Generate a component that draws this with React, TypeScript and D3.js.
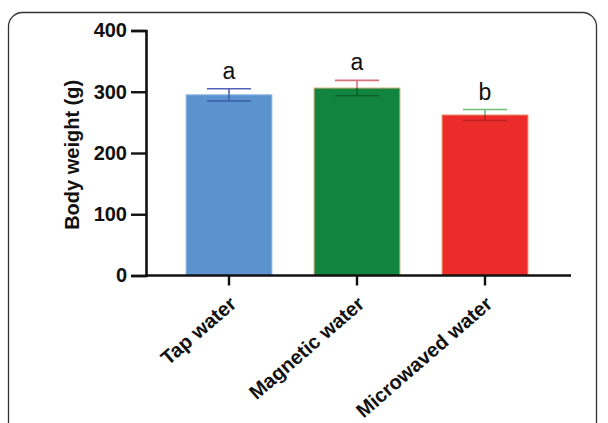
import React, { useRef, useEffect } from 'react';
import * as d3 from 'd3';

const groups = ['Tap water', 'Magnetic water', 'Microwaved water'];
const means = [295, 306, 262];
const errors = [10, 12.5, 9];
const letters = ['a', 'a', 'b'];
const barColors = ['#5b93cf', '#118540', '#ec2b2b'];
const barEdges = ['#8fb6e6', '#c9a86a', '#e88a5a'];
const errUpper = ['#5562b8', '#d6707a', '#6cc07a'];
const errLower = ['#3f5aa8', '#0c5e2c', '#b81f1f'];
const yTicks = [0, 100, 200, 300, 400];

const W = 608;
const H = 423;

const App = () => {
    const ref = useRef<SVGSVGElement | null>(null);

    useEffect(() => {
        const svg = d3.select(ref.current);
        svg.selectAll('*').remove();

        // card frame
        svg.append('rect')
            .attr('x', 8.5).attr('y', 12.5)
            .attr('width', 588).attr('height', 430)
            .attr('rx', 14)
            .attr('fill', '#fff')
            .attr('stroke', '#333')
            .attr('stroke-width', 1.3);

        const y = d3.scaleLinear().domain([0, 400]).range([275.5, 30.5]);
        const x = d3.scaleBand().domain(groups).range([165, 549]).paddingInner(0.33).paddingOuter(0.165);

        const font = 'Liberation Sans, Arial, sans-serif';

        // bars
        svg.append('g').selectAll('rect')
            .data(groups)
            .join('rect')
            .attr('x', d => x(d)!)
            .attr('y', (d, i) => y(means[i]))
            .attr('width', x.bandwidth())
            .attr('height', (d, i) => y(0) - y(means[i]))
            .attr('fill', (d, i) => barColors[i])
            .attr('stroke', (d, i) => barEdges[i])
            .attr('stroke-width', 1);

        // error bars + letters
        const cap = 22;
        groups.forEach((g, i) => {
            const cx = x(g)! + x.bandwidth() / 2;
            const eg = svg.append('g').attr('stroke-width', 1.6);
            eg.append('line')
                .attr('x1', cx).attr('x2', cx)
                .attr('y1', y(means[i] + errors[i])).attr('y2', y(means[i]))
                .attr('stroke', errUpper[i]);
            eg.append('line')
                .attr('x1', cx - cap).attr('x2', cx + cap)
                .attr('y1', y(means[i] + errors[i])).attr('y2', y(means[i] + errors[i]))
                .attr('stroke', errUpper[i]);
            eg.append('line')
                .attr('x1', cx).attr('x2', cx)
                .attr('y1', y(means[i])).attr('y2', y(means[i] - errors[i]))
                .attr('stroke', errLower[i]);
            eg.append('line')
                .attr('x1', cx - cap).attr('x2', cx + cap)
                .attr('y1', y(means[i] - errors[i])).attr('y2', y(means[i] - errors[i]))
                .attr('stroke', errLower[i]);
            svg.append('text')
                .attr('x', cx)
                .attr('y', y(means[i] + errors[i]) - 10)
                .attr('text-anchor', 'middle')
                .attr('font-family', font)
                .attr('font-size', 23)
                .attr('fill', '#111')
                .text(letters[i]);
        });

        // y axis
        const yAxis = svg.append('g')
            .attr('transform', 'translate(146,0)')
            .call(d3.axisLeft(y).tickValues(yTicks).tickSize(15).tickPadding(4));
        yAxis.select('.domain').attr('stroke', '#111').attr('stroke-width', 2.6);
        yAxis.selectAll('.tick line').attr('stroke', '#111').attr('stroke-width', 2.4);
        yAxis.selectAll('.tick text')
            .attr('font-family', font)
            .attr('font-weight', 'bold')
            .attr('font-size', 20)
            .attr('fill', '#111');

        // x axis
        svg.append('line')
            .attr('x1', 145).attr('x2', 571)
            .attr('y1', y(0)).attr('y2', y(0))
            .attr('stroke', '#111').attr('stroke-width', 2.6);
        const xAxis = svg.append('g')
            .attr('transform', `translate(0,${y(0)})`)
            .call(d3.axisBottom(x).tickSize(10).tickPadding(6));
        xAxis.select('.domain').remove();
        xAxis.selectAll('.tick line').attr('stroke', '#111').attr('stroke-width', 2.4);
        xAxis.selectAll('.tick text')
            .attr('font-family', font)
            .attr('font-weight', 'bold')
            .attr('font-size', 20)
            .attr('fill', '#111')
            .attr('text-anchor', 'end')
            .attr('x', 0)
            .attr('y', 0)
            .attr('dy', '0.35em')
            .attr('transform', 'translate(4,25) rotate(-41)');

        // y label
        svg.append('text')
            .attr('transform', `translate(79,${y(197)}) rotate(-90)`)
            .attr('text-anchor', 'middle')
            .attr('font-family', font)
            .attr('font-weight', 'bold')
            .attr('font-size', 20)
            .attr('fill', '#111')
            .text('Body weight (g)');
    }, []);

    return (
        <svg ref={ref} width={W} height={H}
            style={{ position: 'absolute', left: 0, top: 0, background: '#fff' }} />
    );
};

export default App;
